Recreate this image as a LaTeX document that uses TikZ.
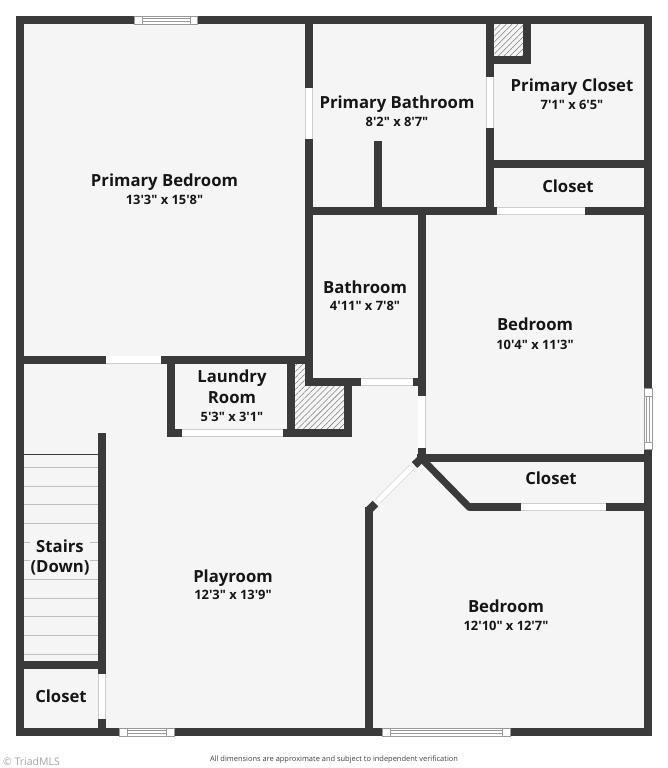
\documentclass[tikz,border=0pt]{standalone}
\usepackage{fontspec}
\newfontfamily\planfont{Open Sans}
\usetikzlibrary{patterns.meta}
\definecolor{wall_gray}{RGB}{58,58,58}
\definecolor{floor_gray}{RGB}{245,245,245}
\definecolor{frame_gray}{RGB}{205,205,205}
\definecolor{tread_gray}{RGB}{190,190,190}
\definecolor{ink}{RGB}{22,22,22}
\tikzset{
	wall/.style={draw=wall_gray,line width=8pt,miter limit=10},
	door/.style={draw=frame_gray,line width=.6pt,double=white,double distance=6.8pt},
	hatch/.style={pattern={Lines[angle=45,distance=4.2pt,line width=.55pt]},pattern color=gray},
	pane/.style={draw=gray!80,line width=.6pt},
	roomname/.style={anchor=base,inner sep=0pt,yshift=-.8pt,text=ink,font=\planfont\fontsize{16.7}{19}\selectfont\bfseries},
	roomsize/.style={anchor=base,inner sep=0pt,yshift=-.8pt,text=ink,font=\planfont\fontsize{12.9}{15}\selectfont\bfseries},
}
\begin{document}
\begin{tikzpicture}[x=1pt,y=-1pt]
	\useasboundingbox (0,0) rectangle (668,768);
	\fill[white] (0,0) rectangle (668,768);
	\fill[floor_gray] (20,20) rectangle (648,732);

	% hatched shafts
	\fill[hatch] (494,24) rectangle (523,56);
	\fill[hatch] (295,363) -- (305,363) -- (305,386) -- (344,386) -- (344,429) -- (295,429) -- cycle;

	% stair treads
	\draw[wall_gray,line width=1.2pt] (24,454.7) -- (98,454.7);
	\foreach \y in {467.3,486,504.7,523.3,542,560.7,579.3,598,616.7,635.3,654}
		\draw[tread_gray,line width=.9pt] (24,\y) -- (98,\y);

	% walls
	\draw[wall] (20,20) rectangle (648,732);
	\foreach \a/\b/\c/\d in {309/20/309/386,20/359.5/309/359.5,171/359.5/171/437,167/433/351/433,
		291/359.5/291/433,305/382/425/382,347.5/382/347.5/437,309/211/648/211,421.5/211/421.5/462,
		490/20/490/211,527/20/527/64,490/60/531/60,490/164/648/164,378/141/378/211,417/458/648/458,
		469/507/648/507,102/433/102/732,20/665/102/665,369/507/369/732}
		\draw[wall] (\a,\b) -- (\c,\d);
	\draw[wall,line width=7pt] (421,458) -- (469,507) -- (480,507);
	\draw[wall] (421.5,458.5) -- (414.5,465);
	\draw[wall] (369,510) -- (375.5,503.5);

	% door openings
	\foreach \a/\b/\c/\d in {309/88/309/139,106/359.5/161/359.5,182/433/283/433,361/382/413/382,
		421.5/396/421.5/448,490/77/490/128,497/211/585/211,521/507/606/507,102/674/102/719}
		\draw[door] (\a,\b) -- (\c,\d);
	\draw[door,double distance=5pt] (411.5,467.5) -- (378,501);

	% windows
	\foreach \a/\b/\c/\d/\y in {134/142/190/197/20,119/127/166/174/732,382/390/502/510/732}{
		\fill[white,pane] (\a,\y-4) rectangle (\d,\y+4);
		\draw[pane] (\b,\y-4) -- (\b,\y+4);
		\draw[pane] (\c,\y-4) -- (\c,\y+4);
		\draw[pane] (\b,\y-1.5) -- (\c,\y-1.5);
		\draw[pane] (\b,\y+1.5) -- (\c,\y+1.5);
	}
	\fill[white,pane] (644,388) rectangle (652,449);
	\draw[pane] (644,396) -- (652,396);
	\draw[pane] (644,442) -- (652,442);
	\draw[pane] (646.5,396) -- (646.5,442);
	\draw[pane] (649.5,396) -- (649.5,442);

	% room labels
	\node[roomname] (primary_bed) at (164.5,185.5) {Primary Bedroom};
	\node[roomsize] (primary_bed_size) at (164.5,203.5) {13'3" x 15'8"};
	\node[roomname] (primary_bath) at (397,107.5) {Primary Bathroom};
	\node[roomsize] (primary_bath_size) at (397,125.5) {8'2" x 8'7"};
	\node[roomname] (primary_closet) at (572,90.5) {Primary Closet};
	\node[roomsize] (primary_closet_size) at (572,108.5) {7'1" x 6'5"};
	\node[roomname] (closet_a) at (568,191.5) {Closet};
	\node[roomname] (bath) at (365,292.5) {Bathroom};
	\node[roomsize] (bath_size) at (365,310) {4'11" x 7'8"};
	\node[roomname] (bed_a) at (535,330) {Bedroom};
	\node[roomsize] (bed_a_size) at (535,348.5) {10'4" x 11'3"};
	\node[roomname] (laundry_a) at (232,382) {Laundry};
	\node[roomname] (laundry_b) at (232,402.5) {Room};
	\node[roomsize] (laundry_size) at (232,420.5) {5'3" x 3'1"};
	\node[roomname,fill=floor_gray,inner sep=1pt,align=center,anchor=center] (stairs) at (60,556.5) {Stairs\\[1.5pt](Down)};
	\node[roomname] (play) at (233,581.5) {Playroom};
	\node[roomsize] (play_size) at (233,598.5) {12'3" x 13'9"};
	\node[roomname] (closet_b) at (61,701.5) {Closet};
	\node[roomname] (closet_c) at (551,483.5) {Closet};
	\node[roomname] (bed_b) at (506,611.5) {Bedroom};
	\node[roomsize] (bed_b_size) at (506,629.5) {12'10" x 12'7"};

	% footer
	\node[anchor=west,inner sep=0pt,text=gray!70,font=\planfont\fontsize{10.5}{13}\selectfont] (mark) at (3,762) {© TriadMLS};
	\node[inner sep=0pt,text=black!75,font=\planfont\fontsize{7.45}{9}\selectfont] (note) at (334,760) {All dimensions are approximate and subject to independent verification};
\end{tikzpicture}
\end{document}
